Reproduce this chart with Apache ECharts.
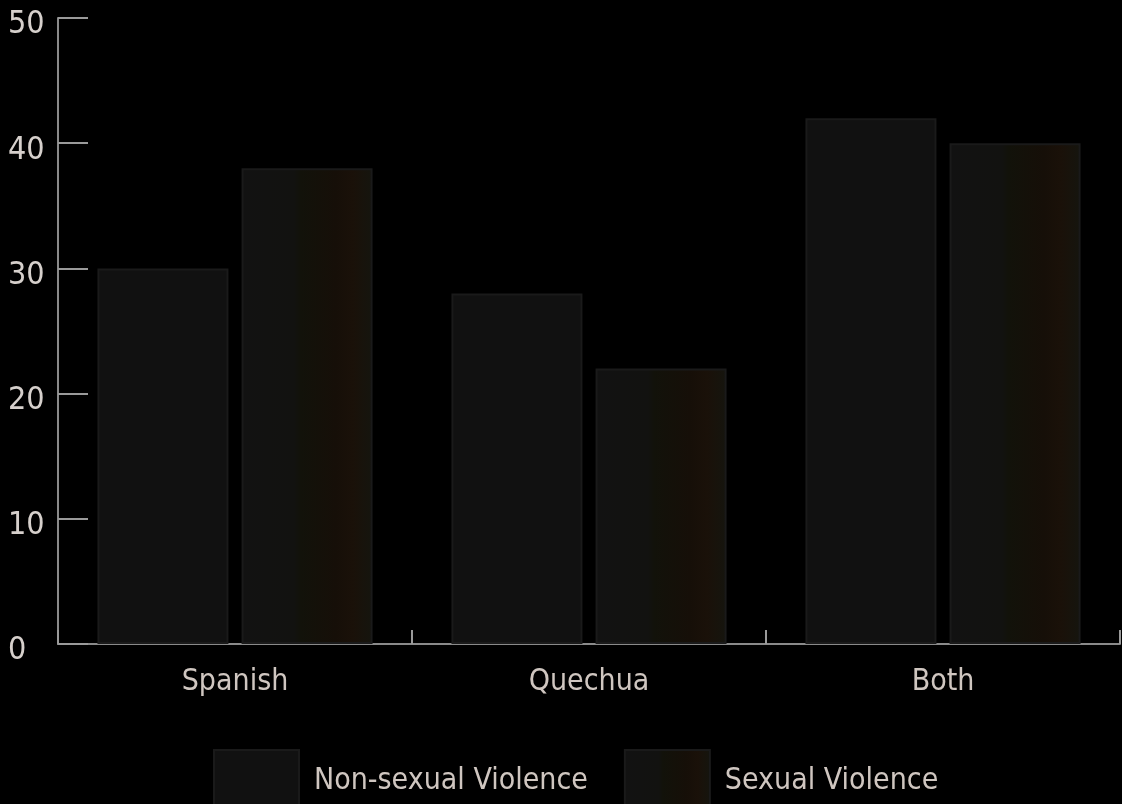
<!DOCTYPE html>
<html>
<head>
<meta charset="utf-8">
<title></title>
<script src="https://cdn.jsdelivr.net/npm/echarts@6/dist/echarts.min.js"></script>
<style>
  html, body { margin: 0; padding: 0; background: #000; }
  #chart { width: 1122px; height: 804px; }
</style>
</head>
<body>
<div id="chart"></div>
<script>
var categories = ['Spanish', 'Quechua', 'Both'];
var nonSexual = [30, 28, 42];
var sexual = [38, 22, 40];
var yTicks = [0, 10, 20, 30, 40, 50];

// no narrow helvetica here, condensed DejaVu is the closest
var fontFam = '"Liberation Sans Narrow", "DejaVu Sans Condensed", "Roboto", sans-serif';

var myChart = echarts.init(document.getElementById('chart'));
myChart.setOption({
  backgroundColor: '#000',
  animation: false,
  grid: { left: 58, right: 2, top: 18, bottom: 160 },
  legend: {
    top: 744,
    left: 208,
    itemWidth: 85,
    itemHeight: 62,
    itemGap: 36,
    icon: 'rect',
    textStyle: { color: '#cfc6c0', fontSize: 30, fontFamily: fontFam, padding: [0, 0, 0, 10] },
    data: ['Non-sexual Violence', 'Sexual Violence']
  },
  xAxis: {
    type: 'category',
    data: categories,
    axisLine: { lineStyle: { color: '#8a8a8a', width: 2 } },
    axisTick: { show: true, inside: true, length: 14, lineStyle: { color: '#9a9a9a', width: 2 } },
    axisLabel: { color: '#cfc6c0', fontSize: 30, fontFamily: fontFam, margin: 23 }
  },
  yAxis: {
    type: 'value',
    min: yTicks[0],
    max: yTicks[yTicks.length - 1],
    interval: 10,
    axisLine: { show: true, lineStyle: { color: '#8a8a8a', width: 2 } },
    axisTick: { show: true, inside: true, length: 30, lineStyle: { color: '#9a9a9a', width: 2 } },
    splitLine: { show: false },
    axisLabel: {
      color: '#d6d0cc', fontSize: 32, fontFamily: fontFam, margin: 50, align: 'left',
      verticalAlign: 'top', lineHeight: 14
    }
  },
  series: [
    {
      name: 'Non-sexual Violence',
      type: 'bar',
      data: nonSexual,
      barWidth: 131,
      barGap: '10%',
      itemStyle: { color: '#111111', borderColor: '#1a1a1a', borderWidth: 2 }
    },
    {
      name: 'Sexual Violence',
      type: 'bar',
      data: sexual,
      barWidth: 131,
      itemStyle: {
        color: new echarts.graphic.LinearGradient(0, 0, 1, 0, [
          { offset: 0, color: '#121212' },
          { offset: 0.4, color: '#121210' },
          { offset: 0.45, color: '#12120a' },
          { offset: 0.72, color: '#160f08' },
          { offset: 0.85, color: '#1a1109' },
          { offset: 1, color: '#15150e' }
        ]),
        borderColor: '#1a1a1a',
        borderWidth: 2
      }
    }
  ]
});
</script>
</body>
</html>
